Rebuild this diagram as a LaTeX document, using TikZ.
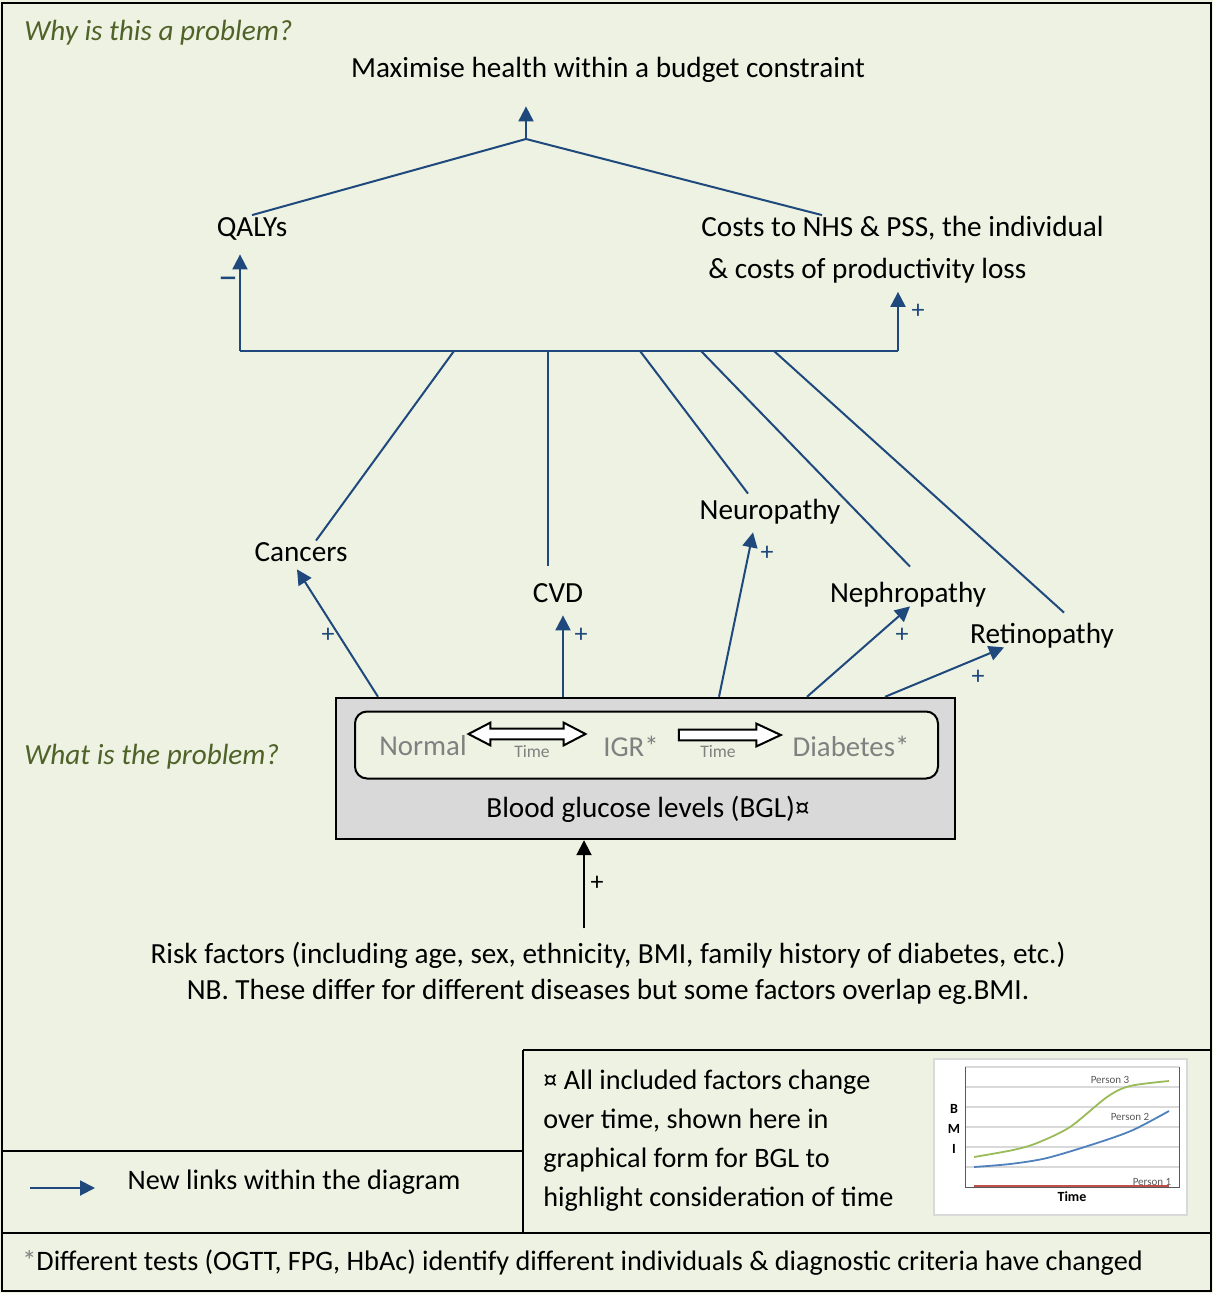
\documentclass[tikz,border=0pt]{standalone}
\usepackage{fontspec}
\setmainfont{Carlito}
\usepackage{xcolor}
\usepackage{tikz}
\definecolor{linkblue}{RGB}{31, 73, 125}
\definecolor{headgreen}{RGB}{79, 98, 40}
\definecolor{paper}{RGB}{237, 242, 226}
\definecolor{boxgrey}{RGB}{217, 217, 217}
\definecolor{stategrey}{RGB}{128, 128, 128}
\definecolor{chartgrey}{RGB}{89, 89, 89}
\definecolor{gridgrey}{RGB}{217, 217, 217}
\definecolor{personred}{RGB}{192, 80, 77}
\definecolor{personblue}{RGB}{79, 129, 189}
\definecolor{persongreen}{RGB}{155, 187, 89}
\usetikzlibrary{shapes.arrows, arrows.meta, calc}

\begin{document}
\begin{tikzpicture}[
    x=0.5pt, y=-0.5pt,
    term/.style={font=\fontsize{14.6}{17.5}\selectfont, inner sep=0pt, text height=10.5pt, text depth=3pt},
    small/.style={font=\fontsize{14.1}{17}\selectfont},
    block/.style={inner sep=0pt, align=left},
    heading/.style={font=\fontsize{14.6}{17.5}\selectfont\itshape, text=headgreen, inner sep=0pt, anchor=west},
    sign/.style={font=\fontsize{13}{15}\selectfont, text=linkblue, inner sep=0pt},
    link/.style={draw=linkblue, line width=1pt},
    newlink/.style={link, -{Triangle[length=7.5pt, width=7.5pt]}},
    riskarrow/.style={draw=black, line width=1pt, -{Triangle[length=7.5pt, width=7.5pt]}},
    frame/.style={draw=black, line width=1pt},
    bglbox/.style={rectangle, draw=black, line width=1.2pt, fill=boxgrey, minimum width=309.5pt, minimum height=70.5pt},
    stagebox/.style={rectangle, rounded corners=6pt, draw=black, line width=1pt, fill=paper, minimum width=291.5pt, minimum height=33.5pt},
    stage/.style={font=\fontsize{14.4}{17}\selectfont, text=stategrey, inner sep=0pt},
    timelbl/.style={font=\fontsize{8.8}{10}\selectfont, text=stategrey, inner sep=0pt},
    twoway/.style={double arrow, draw=black, line width=1pt, fill=white, inner sep=2.2pt, minimum height=58.5pt, double arrow head extend=3pt, double arrow tip angle=55},
    oneway/.style={single arrow, draw=black, line width=1pt, fill=white, inner sep=2.2pt, minimum height=51pt, single arrow head extend=3pt, single arrow tip angle=50},
    chartlbl/.style={font=\fontsize{5.5}{6}\selectfont, text=chartgrey, inner sep=0pt},
    axislbl/.style={font=\fontsize{7}{8}\selectfont\bfseries, inner sep=0pt}
]
    \useasboundingbox (0,0) rectangle (1213,1293);
    \fill[paper] (0,0) rectangle (1213,1293);
    \draw[frame] (2,3) rectangle (1211,1291);

    \node[heading] (why) at (24,33) {Why is this a problem?};
    \node[heading] (what) at (24,757) {What is the problem?};

    \node[term] (goal) at (608,70) {Maximise health within a budget constraint};
    \node[term] (qaly) at (252,229) {QALYs};
    \node[block, font=\fontsize{14.6}{21}\selectfont, anchor=west] (cost) at (701,250) {Costs to NHS \& PSS, the individual\\\hspace{3.5pt}\& costs of productivity loss};

    \coordinate (apex) at (526,139);
    \draw[newlink, shorten >=11.25pt] (apex) -- (apex |- goal.south);
    \draw[link] (qaly.north) -- (apex) -- ([shift={(121,-1)}]cost.north west);

    \coordinate (busL) at (240,351);
    \coordinate (busR) at (898,351);
    \draw[link] (busL) -- (busR);
    \draw[newlink, shorten >=5.75pt] (busL) -- (qaly.south -| busL);
    \draw[newlink, shorten >=4pt] (busR) -- (cost.south -| busR);
    \node[sign, font=\fontsize{20}{22}\selectfont] (qalysign) at (228,283) {–};
    \node[sign] (costsign) at (918,311) {+};

    \node[term] (canc) at (301,554) {Cancers};
    \node[term] (cvd) at (558,595) {CVD};
    \node[term] (neuro) at (770,512) {Neuropathy};
    \node[term] (neph) at (908,595) {Nephropathy};
    \node[term] (retino) at (1042,636) {Retinopathy};

    \coordinate (b1) at (454,351);
    \coordinate (b2) at (548,351);
    \coordinate (b3) at (640,351);
    \coordinate (b4) at (701,351);
    \coordinate (b5) at (774,351);
    \draw[link] (b1) -- ([shift={(15,0.5)}]canc.north);
    \draw[link] (b2) -- ([shift={(-10,-15.5)}]cvd.north);
    \draw[link] (b3) -- ([shift={(-22,-4.5)}]neuro.north);
    \draw[link] (b4) -- ([shift={(2,-14.5)}]neph.north);
    \draw[link] (b5) -- ([shift={(22,-9.5)}]retino.north);

    \node[bglbox] (bgl) at (645.5,768.5) {};
    \node[stagebox] (stages) at (646.5,745) {};
    \node[stage] (normal) at (423,746) {Normal};
    \node[stage] (igr) at (631,746) {IGR*};
    \node[stage] (diab) at (851,746) {Diabetes*};
    \node[twoway] (arr1) at (527,734) {};
    \node[oneway] (arr2) at (724,735) {};
    \node[timelbl] (time1) at (532,752) {Time};
    \node[timelbl] (time2) at (718,752) {Time};
    \node[term] (bgltext) at (648,810) {Blood glucose levels (BGL)¤};

    \draw[newlink] ([shift={(-267.5,0)}]bgl.north) -- ([shift={(-4,1.5)}]canc.south);
    \draw[newlink] ([shift={(-82.5,0)}]bgl.north) -- ([shift={(5,6.5)}]cvd.south);
    \draw[newlink] ([shift={(73.5,0)}]bgl.north) -- ([shift={(-17,6.5)}]neuro.south);
    \draw[newlink] ([shift={(161.5,0)}]bgl.north) -- ([shift={(2,-2.5)}]neph.south);
    \draw[newlink] ([shift={(239.5,0)}]bgl.north) -- ([shift={(-38,-2.5)}]retino.south);
    \node[sign] (cancsign) at (328,635) {+};
    \node[sign] (cvdsign) at (581,635) {+};
    \node[sign] (neurosign) at (767,553) {+};
    \node[sign] (nephsign) at (902,635) {+};
    \node[sign] (retinosign) at (978,677) {+};

    \node[block, align=center, font=\fontsize{14.6}{18}\selectfont] (risk) at (608,973) {Risk factors (including age, sex, ethnicity, BMI, family history of diabetes, etc.)\\NB. These differ for different diseases but some factors overlap eg.BMI.};
    \draw[riskarrow] ([shift={(-24,-13)}]risk.north) -- ([shift={(-61.5,0)}]bgl.south);
    \node[sign, text=black] (risksign) at (597,883) {+};

    \draw[frame] (2,1151) -- (523,1151);
    \draw[frame] (523,1050) -- (523,1233);
    \draw[frame] (523,1050) -- (1211,1050);
    \draw[frame] (2,1233) -- (1211,1233);

    \coordinate (legA) at (30,1188);
    \coordinate (legB) at (95,1188);
    \draw[newlink] (legA) -- (legB);
    \node[term, small] (legtext) at (294,1182) {New links within the diagram};

    \node[block, font=\fontsize{14.1}{19.5}\selectfont, anchor=west] (note) at (543,1141) {¤ All included factors change\\over time, shown here in\\graphical form for BGL to\\highlight consideration of time};

    \filldraw[fill=white, draw=gridgrey, line width=0.6pt] (934,1059) rectangle (1187,1215);
    \foreach \gy in {1067,1087,1107,1127,1147,1167}
        \draw[gridgrey, line width=0.6pt] (965,\gy) -- (1179,\gy);
    \draw[chartgrey, line width=0.5pt] (965,1067) -- (965,1187) -- (1179,1187) -- (1179,1067);
    \draw[personred, line width=1pt] (974,1186) -- (1169,1186);
    \draw[personblue, line width=0.9pt] plot[smooth] coordinates {(974,1167) (1010,1164) (1047,1158) (1097,1143) (1133,1130) (1169,1111)};
    \draw[persongreen, line width=0.9pt] plot[smooth] coordinates {(974,1157) (1013,1150) (1037,1143) (1070,1127) (1107,1097) (1130,1086) (1169,1081)};
    \node[chartlbl] (p3) at (1110,1080) {Person 3};
    \node[chartlbl] (p2) at (1130,1117) {Person 2};
    \node[chartlbl] (p1) at (1152,1182) {Person 1};
    \node[axislbl] (ab) at (954,1109) {B};
    \node[axislbl] (am) at (954,1129) {M};
    \node[axislbl] (ai) at (954,1149) {I};
    \node[axislbl] (at) at (1072,1197) {Time};

    \node[term, small, anchor=west] (foot) at (22,1263) {{\color{stategrey}*}Different tests (OGTT, FPG, HbAc) identify different individuals \& diagnostic criteria have changed};
\end{tikzpicture}
\end{document}
